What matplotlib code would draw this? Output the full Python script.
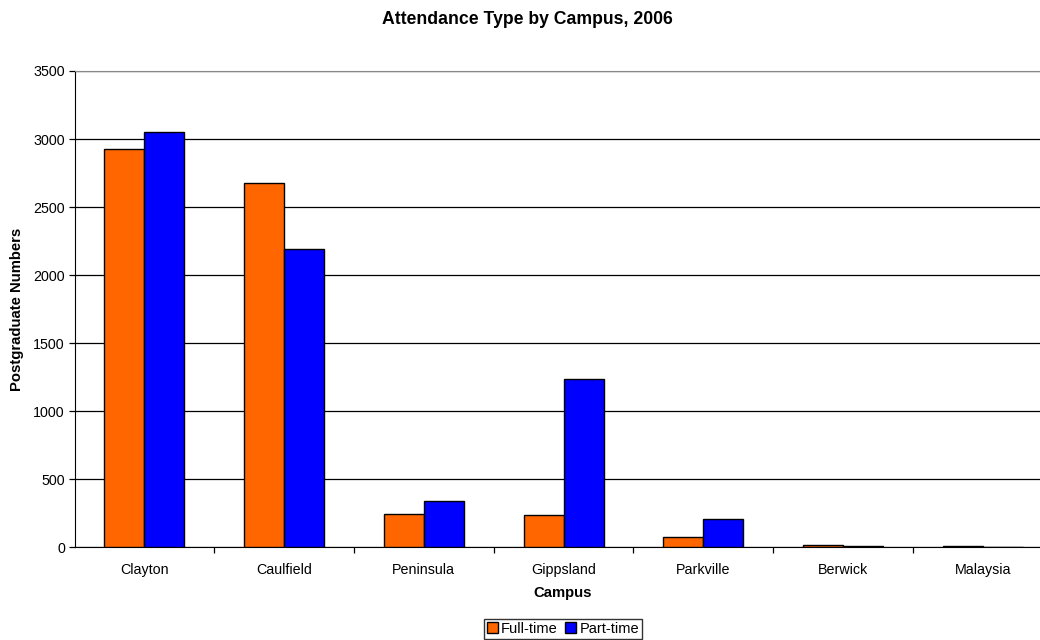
import numpy as np
import matplotlib.pyplot as plt

# Postgraduate numbers by campus and attendance type, 2006
campuses = ["Clayton", "Caulfield", "Peninsula", "Gippsland", "Parkville", "Berwick", "Malaysia"]
full_time = [2924, 2678, 247, 237, 78, 16, 9]
part_time = [3053, 2190, 342, 1237, 208, 10, 5]

plt.rcParams['font.family'] = ['Liberation Sans', 'DejaVu Sans']

fig = plt.figure(figsize=(10.4, 6.4), dpi=100)
W, H = 1040, 640
# plot area runs past the right edge of the picture, as in the reference
left, right, top, bottom = 74.6, 1052.5, 71, 547.3
ax = fig.add_axes([left / W, 1 - bottom / H, (right - left) / W, (bottom - top) / H])

x = np.arange(len(campuses))
w = 0.286
ax.bar(x - w / 2, full_time, w, color='#FF6600', edgecolor='black', linewidth=1.0,
       label='Full-time', zorder=3)
ax.bar(x + w / 2, part_time, w, color='#0000FF', edgecolor='black', linewidth=1.0,
       label='Part-time', zorder=3)

ax.set_xlim(-0.5, len(campuses) - 0.5)
ax.set_ylim(0, 3500)
ax.set_yticks(np.arange(0, 3501, 500))
ax.yaxis.grid(True, color='black', linewidth=0.9, zorder=0)
ax.set_axisbelow(True)

ax.set_xticks(x)
ax.set_xticklabels(campuses, fontsize=10.3)
ax.set_xticks(np.arange(0.5, len(campuses) - 0.5, 1), minor=True)
ax.tick_params(axis='x', which='major', length=0, pad=11)
ax.tick_params(axis='x', which='minor', length=4, width=0.9, direction='out')
ax.tick_params(axis='y', labelsize=10.3, length=4, width=0.9, direction='out', pad=3)

for side in ['top', 'right']:
    ax.spines[side].set_color('#888888')
ax.spines['left'].set_color('black')
ax.spines['bottom'].set_color('black')

fig.text(563 / W, 1 - 593 / H, 'Campus', fontsize=10.7, fontweight='bold',
         ha='center', va='center')
fig.text(17.5 / W, 1 - 309 / H, 'Postgraduate Numbers', rotation=90, fontsize=10.7,
         fontweight='bold', ha='center', va='center')
fig.text(527 / W, 1 - 19 / H, 'Attendance Type by Campus, 2006', fontsize=12.7,
         fontweight='bold', ha='center', va='center')

fig.legend(loc='upper center', bbox_to_anchor=(563 / W, 1 - 619 / H), ncol=2,
           fontsize=10.5, frameon=True, fancybox=False, edgecolor='black',
           handlelength=0.75, handleheight=0.75, handletextpad=0.25,
           columnspacing=0.5, borderpad=0.2, borderaxespad=0)

fig.savefig('out.png', dpi=100)
